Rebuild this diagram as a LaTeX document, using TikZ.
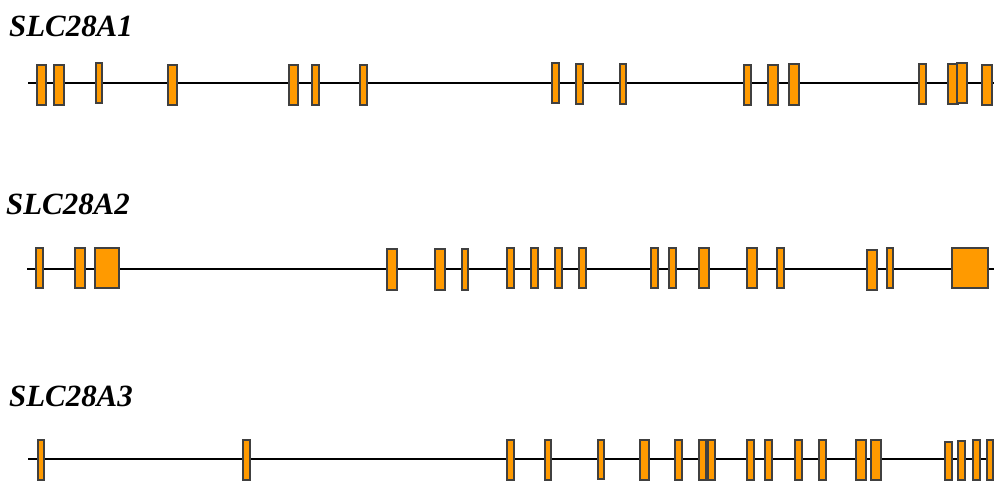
\documentclass[tikz,border=0pt]{standalone}
\usepackage{fontspec}
\setmainfont{Liberation Serif}
\definecolor{exonfill}{HTML}{FF9A00}
\definecolor{exonedge}{HTML}{404040}
\begin{document}
\begin{tikzpicture}[x=1bp,y=-1bp,
  exon/.style={draw=exonedge,fill=exonfill,line width=2bp,inner sep=0pt,outer sep=0pt,rectangle},
  intron/.style={draw=black,line width=2bp},
  genelabel/.style={font=\fontsize{31}{31}\selectfont\bfseries\itshape,inner sep=0pt,anchor=base west}]
\useasboundingbox (0,0) rectangle (994,481);
% labels
\node[genelabel] (l1) at (9,37) {SLC28A1};
\node[genelabel] (l2) at (6,215) {SLC28A2};
\node[genelabel] (l3) at (9,406.5) {SLC28A3};
% gene lines
\coordinate (a1s) at (28,83.5); \coordinate (a1e) at (994,83.5);
\coordinate (a2s) at (27,269.5); \coordinate (a2e) at (994,269.5);
\coordinate (a3s) at (28,458.7); \coordinate (a3e) at (994,458.7);
\draw[intron] (a1s) -- (a1e);
\draw[intron] (a2s) -- (a2e);
\draw[intron] (a3s) -- (a3e);
% SLC28A1 exons
\foreach \xa/\xb/\ya/\yb [count=\i] in {36.7/45.7/64.8/104.8, 54.3/64/64.8/104.8, 96/102.3/62.8/103, 168.3/177.3/64.8/104.8,
  288.7/297.7/64.8/104.8, 312.3/318.7/64.8/104.8, 360.3/366.7/64.8/104.8, 552.3/559/63.3/103.5,
  576.3/582.7/63.8/104.3, 619.7/626.3/63.8/103.8, 744.3/750.7/64.8/104.8, 768.3/777.7/64.8/104.8,
  789.3/798.7/64.5/104.8, 919.3/925.7/64/104.3, 948.3/957.7/64/104, 957/967/63.5/103.5, 982.3/991.7/64.8/104.8}
  \node[exon,minimum width={(\xb-\xa)*1bp},minimum height={(\yb-\ya)*1bp}] (e1x\i) at ({(\xa+\xb)/2},{(\ya+\yb)/2}) {};
% SLC28A2 exons
\foreach \xa/\xb/\ya/\yb [count=\i] in {36.3/42.7/248.3/288.3, 75/84.7/248.3/288.3, 95/119/248.5/288.5,
  387.3/396.7/249.5/289.8, 435.3/444.7/249.5/289.8, 462/468.3/249.5/289.8, 507.3/513.7/248.3/288.3,
  531/537.7/248.3/288.3, 555/561.7/248.3/288.3, 579/585.7/248.3/288.3, 651/657.7/248.3/288.3,
  669/676/248.3/288.3, 699/709/248.3/288.3, 747/757/248.3/288.3, 776.7/783.7/248.3/288.3,
  867.3/876.7/249.7/290, 886.7/893.3/248.3/288.3, 952.3/987.7/248.3/287.8}
  \node[exon,minimum width={(\xb-\xa)*1bp},minimum height={(\yb-\ya)*1bp}] (e2x\i) at ({(\xa+\xb)/2},{(\ya+\yb)/2}) {};
% SLC28A3 exons
\foreach \xa/\xb/\ya/\yb [count=\i] in {37.7/44.3/440/480, 243/249.7/440/480, 507/513.7/440/480,
  544.7/551.3/440/480, 597.7/604/439.5/479, 639.7/649/440/480, 675/681.7/440/480, 699/705.7/440/480,
  708.3/715/440/480, 747/753.7/440/480, 765/771.7/440/480, 795/801.7/440/480, 819/825.7/440/480,
  856.3/865.7/440/480, 871.3/881.3/440/480, 945/951.7/441.5/480, 957.7/965/441/480,
  973/980.3/440/480, 987/993.3/440/480}
  \node[exon,minimum width={(\xb-\xa)*1bp},minimum height={(\yb-\ya)*1bp}] (e3x\i) at ({(\xa+\xb)/2},{(\ya+\yb)/2}) {};
\end{tikzpicture}
\end{document}
